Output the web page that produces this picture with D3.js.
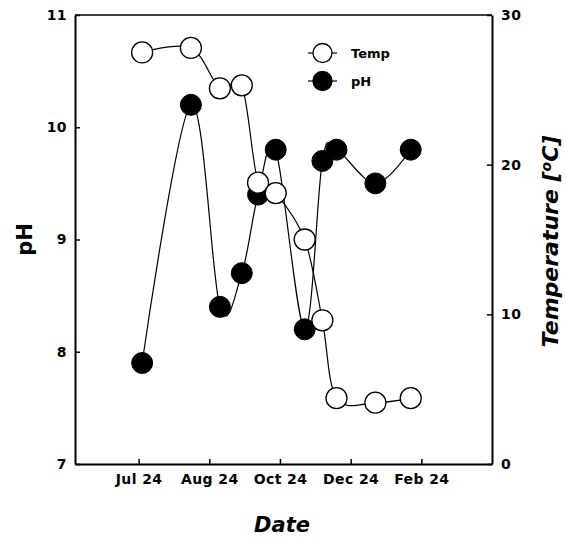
<!DOCTYPE html>
<html>
<head>
<meta charset="utf-8">
<script src="https://cdn.jsdelivr.net/npm/d3@7"></script>
<style>
  html, body { margin: 0; padding: 0; background: #fff; }
  svg { display: block; font-family: "DejaVu Sans", Arial, sans-serif; font-weight: bold; }
</style>
</head>
<body>
<svg id="chart" width="567" height="541"></svg>
<script>
// sampling positions, in units of the labelled date ticks
const sampleX = [0.05, 0.74, 1.15, 1.46, 1.69, 1.94, 2.35, 2.6, 2.8, 3.35, 3.85]
const phValues = [7.9, 10.2, 8.4, 8.7, 9.4, 9.8, 8.2, 9.7, 9.8, 9.5, 9.8]
const tempValues = [27.5, 27.8, 25.1, 25.3, 18.8, 18.1, 15.0, 9.6, 4.4, 4.1, 4.4]

const dateTicks = [0, 1, 2, 3, 4]
const dateLabels = ["Jul 24", "Aug 24", "Oct 24", "Dec 24", "Feb 24"]
const phTicks = [7, 8, 9, 10, 11]
const tempTicks = [0, 10, 20, 30]

const plotLeft = 75,
  plotRight = 492,
  plotTop = 15,
  plotBottom = 464,
  markerR = 10.5

const svg = d3.select("#chart")

const x = d3.scaleLinear().domain([-0.9, 5]).range([plotLeft, plotRight])
const yPh = d3.scaleLinear().domain([7, 11]).range([plotBottom, plotTop])
const yTemp = d3.scaleLinear().domain([0, 30]).range([plotBottom, plotTop])

// Axes
const styleAxis = (g) => {
  g.select(".domain").attr("stroke", "#000").attr("stroke-width", 2)
  g.selectAll(".tick line").attr("stroke", "#000").attr("stroke-width", 1.5)
  g.selectAll(".tick text")
    .attr("fill", "#000")
    .style("font-size", "14px")
    .style("font-weight", "bold")
    .style("letter-spacing", "0.4px")
    .style("font-family", '"DejaVu Sans", Arial, sans-serif')
}

svg
  .append("g")
  .attr("transform", `translate(0,${plotBottom})`)
  .call(
    d3
      .axisBottom(x)
      .tickValues(dateTicks)
      .tickFormat((d, i) => dateLabels[i])
      .tickSizeInner(-5)
      .tickSizeOuter(0)
      .tickPadding(10)
  )
  .call(styleAxis)

svg
  .append("g")
  .attr("transform", `translate(${plotLeft},0)`)
  .call(
    d3
      .axisLeft(yPh)
      .tickValues(phTicks)
      .tickFormat(d3.format("d"))
      .tickSizeInner(-5)
      .tickSizeOuter(0)
      .tickPadding(8)
  )
  .call(styleAxis)

svg
  .append("g")
  .attr("transform", `translate(${plotRight},0)`)
  .call(
    d3
      .axisRight(yTemp)
      .tickValues(tempTicks)
      .tickFormat(d3.format("d"))
      .tickSizeInner(-5)
      .tickSizeOuter(0)
      .tickPadding(9)
  )
  .call(styleAxis)

// top frame line
svg
  .append("line")
  .attr("x1", plotLeft)
  .attr("x2", plotRight)
  .attr("y1", plotTop)
  .attr("y2", plotTop)
  .attr("stroke", "#000")
  .attr("stroke-width", 1.5)

// Axis titles
svg
  .append("text")
  .attr("transform", `translate(32,${(plotTop + plotBottom) / 2}) rotate(-90)`)
  .attr("text-anchor", "middle")
  .style("font-size", "21px")
  .text("pH")

const tTitle = svg
  .append("text")
  .attr("transform", `translate(558,${(plotTop + plotBottom) / 2 + 2}) rotate(-90)`)
  .attr("text-anchor", "middle")
  .style("font-size", "22px")
  .style("font-style", "italic")
tTitle.append("tspan").text("Temperature [")
tTitle.append("tspan").attr("dy", -7).style("font-size", "14px").text("o")
tTitle.append("tspan").attr("dy", 7).text("C]")

svg
  .append("text")
  .attr("x", 282)
  .attr("y", 532)
  .attr("text-anchor", "middle")
  .style("font-size", "21px")
  .style("font-style", "italic")
  .text("Date")

// Lines
const curve = d3.curveCardinal.tension(0)

const phLine = d3
  .line()
  .x((d, i) => x(sampleX[i]))
  .y((d) => yPh(d))
  .curve(curve)

const tempLine = d3
  .line()
  .x((d, i) => x(sampleX[i]))
  .y((d) => yTemp(d))
  .curve(curve)

svg.append("path").attr("d", phLine(phValues)).attr("fill", "none").attr("stroke", "#000").attr("stroke-width", 1.2)
svg.append("path").attr("d", tempLine(tempValues)).attr("fill", "none").attr("stroke", "#000").attr("stroke-width", 1.2)

// Markers
svg
  .selectAll(".ph")
  .data(phValues)
  .join("circle")
  .attr("class", "ph")
  .attr("cx", (d, i) => x(sampleX[i]))
  .attr("cy", (d) => yPh(d))
  .attr("r", markerR)
  .attr("fill", "#000")
  .attr("stroke", "#000")

svg
  .selectAll(".temp")
  .data(tempValues)
  .join("circle")
  .attr("class", "temp")
  .attr("cx", (d, i) => x(sampleX[i]))
  .attr("cy", (d) => yTemp(d))
  .attr("r", markerR)
  .attr("fill", "#fff")
  .attr("stroke", "#000")
  .attr("stroke-width", 1.3)

// Legend
const legend = svg.append("g").attr("transform", "translate(308,53)")
const items = [
  { label: "Temp", fill: "#fff" },
  { label: "pH", fill: "#000" },
]
items.forEach((it, i) => {
  const g = legend.append("g").attr("transform", `translate(0,${i * 28})`)
  g.append("line").attr("x1", 0).attr("x2", 29).attr("stroke", "#000").attr("stroke-width", 1.2)
  g.append("circle").attr("cx", 14.5).attr("r", 9.5).attr("fill", it.fill).attr("stroke", "#000").attr("stroke-width", 1.3)
  g.append("text").attr("x", 43).attr("dy", "0.35em").style("font-size", "13px").text(it.label)
})
</script>
</body>
</html>
